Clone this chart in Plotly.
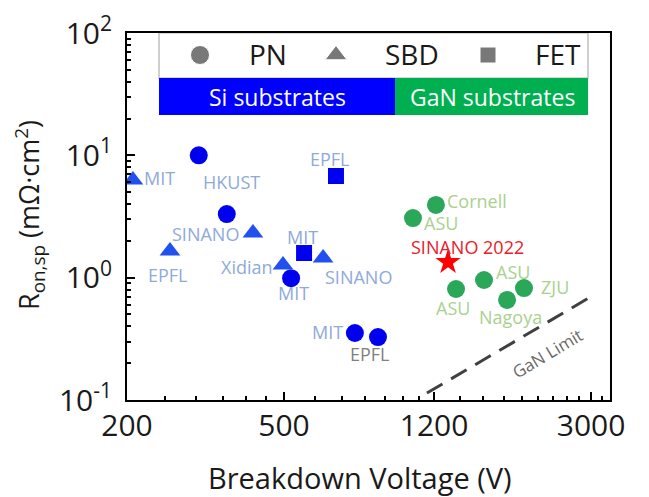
import plotly.graph_objects as go
import numpy as np

# ---------------- data ----------------
si_pn_v = [304, 358, 521, 756, 865]
si_pn_r = [10.0, 3.31, 0.99, 0.353, 0.327]
si_pn_lab = ["HKUST", "SINANO", "MIT", "MIT", "EPFL"]

si_sbd_v = [207, 257, 417, 497, 628]
si_sbd_r = [6.28, 1.65, 2.32, 1.27, 1.45]
si_sbd_lab = ["MIT", "EPFL", "", "Xidian", "SINANO"]

si_fet_v = [677, 562]
si_fet_r = [6.78, 1.59]
si_fet_lab = ["EPFL", "MIT"]

gan_pn_v = [1213, 1061, 1364, 1606, 1837, 2028]
gan_pn_r = [3.93, 3.07, 0.808, 0.957, 0.657, 0.823]
gan_pn_lab = ["Cornell", "ASU", "ASU", "ASU", "Nagoya", "ZJU"]

sinano_v = [1302]
sinano_r = [1.34]
sinano_lab = ["SINANO 2022"]

limit_v = [1151, 3046]
limit_r = [0.114, 0.721]

boundary_v = 950

x_ticks = [200, 500, 1200, 3000]
y_ticks = [0.1, 1, 10, 100]
y_ticktext = ["10<sup>-1</sup>", "10<sup>0</sup>", "10<sup>1</sup>", "10<sup>2</sup>"]

# ---------------- label offsets (px; +dy = up) ----------------
si_pn_off = [(33, -27), (-21, -20), (2, -15), (-27, 1), (-8, -17)]
si_sbd_off = [(27, 2), (-2, -24), (0, 0), (-36, -2), (35, -19)]
si_fet_off = [(-6, 17), (-2, 16)]
gan_pn_off = [(41, 4), (28, -5), (-3, -19), (29, 8), (3, -17), (31, 1)]
sinano_off = [(19, 15)]

FONT = "Open Sans"
SI_LAB = "#8EAADB"
GAN_LAB = "#A9D18E"
TXT = "#1a1a1a"

fig = go.Figure()

fig.add_trace(go.Scatter(x=si_pn_v, y=si_pn_r, mode="markers",
                         marker=dict(symbol="circle", size=18, color="#0000F0"),
                         showlegend=False))
fig.add_trace(go.Scatter(x=si_sbd_v, y=si_sbd_r, mode="markers",
                         marker=dict(symbol="triangle-up", size=18, color="#2050F0"),
                         showlegend=False))
fig.add_trace(go.Scatter(x=si_fet_v, y=si_fet_r, mode="markers",
                         marker=dict(symbol="square", size=16, color="#0000F0"),
                         showlegend=False))
fig.add_trace(go.Scatter(x=gan_pn_v, y=gan_pn_r, mode="markers",
                         marker=dict(symbol="circle", size=18, color="#2BA75A"),
                         showlegend=False))
fig.add_trace(go.Scatter(x=sinano_v, y=sinano_r, mode="markers",
                         marker=dict(symbol="star", size=19, color="#FF0000"),
                         showlegend=False))
fig.add_trace(go.Scatter(x=limit_v, y=limit_r, mode="lines",
                         line=dict(color="#404040", width=3, dash="18px,10px"),
                         showlegend=False))


def px(xp):
    return (xp - 127) / 483


def py(yp):
    return (400 - yp) / 367


# legend marker glyphs on an overlay axis pair (0..1)
fig.add_trace(go.Scatter(x=[px(200), px(336), px(488)],
                         y=[py(55)] * 3, xaxis="x2", yaxis="y2",
                         mode="markers",
                         marker=dict(symbol=["circle", "triangle-up", "square"],
                                     size=[19, 19, 16], color="#404040"),
                         showlegend=False, hoverinfo="skip"))

ann = []


def add_labels(vs, rs, labs, offs, color, size=18):
    for v, r, lab, (dx, dy) in zip(vs, rs, labs, offs):
        if not lab:
            continue
        ann.append(dict(x=np.log10(v), y=np.log10(r), xref="x", yref="y",
                        text=lab, showarrow=False, xshift=dx, yshift=dy,
                        xanchor="center", yanchor="middle",
                        font=dict(family=FONT, size=size, color=color)))


add_labels(si_pn_v[:4], si_pn_r[:4], si_pn_lab[:4], si_pn_off[:4], SI_LAB)
add_labels(si_pn_v[4:], si_pn_r[4:], si_pn_lab[4:], si_pn_off[4:], "#808080")
add_labels(si_sbd_v, si_sbd_r, si_sbd_lab, si_sbd_off, SI_LAB)
add_labels(si_fet_v, si_fet_r, si_fet_lab, si_fet_off, SI_LAB)
add_labels(gan_pn_v, gan_pn_r, gan_pn_lab, gan_pn_off, GAN_LAB)
add_labels(sinano_v, sinano_r, sinano_lab, sinano_off, "#E8202A", size=18)

# GaN limit label
ann.append(dict(x=np.log10(2320), y=np.log10(0.242), xref="x", yref="y",
                text="GaN Limit", showarrow=False, textangle=-31,
                xanchor="center", yanchor="middle",
                font=dict(family=FONT, size=17, color="#6a6a6a")))

for t, xc in [("PN", 268), ("SBD", 412), ("FET", 558)]:
    ann.append(dict(x=px(xc), y=py(54), xref="paper", yref="paper", text=t,
                    xanchor="center", yanchor="middle",
                    showarrow=False, font=dict(family=FONT, size=28, color=TXT)))
ann.append(dict(x=px(277), y=py(97), xref="paper", yref="paper", text="Si substrates",
                xanchor="center", yanchor="middle",
                showarrow=False, font=dict(family=FONT, size=23, color="white")))
ann.append(dict(x=px(492), y=py(97), xref="paper", yref="paper", text="GaN substrates",
                xanchor="center", yanchor="middle",
                showarrow=False, font=dict(family=FONT, size=23, color="white")))

# axis titles
ann.append(dict(x=px(360), y=py(477), xref="paper", yref="paper",
                text="Breakdown Voltage (V)", xanchor="center", yanchor="middle",
                showarrow=False, font=dict(family=FONT, size=29, color=TXT)))
ann.append(dict(x=px(29), y=py(215), xref="paper", yref="paper",
                text="R<sub>on,sp</sub> (mΩ·cm<sup>2</sup>)", textangle=-90,
                xanchor="center", yanchor="middle",
                showarrow=False, font=dict(family=FONT, size=27, color=TXT)))

shapes = [
    dict(type="rect", xref="paper", yref="paper", x0=px(159), x1=px(588),
         y0=py(78), y1=py(33), fillcolor="white", line=dict(color="#B0B0B0", width=1.2),
         layer="below"),
    dict(type="rect", xref="paper", yref="paper", x0=px(159), x1=px(395),
         y0=py(115), y1=py(78), fillcolor="#0000FF", line=dict(width=0), layer="below"),
    dict(type="rect", xref="paper", yref="paper", x0=px(395), x1=px(588),
         y0=py(115), y1=py(78), fillcolor="#00B050", line=dict(width=0), layer="below"),
    dict(type="line", xref="x", yref="paper", x0=np.log10(boundary_v), x1=np.log10(boundary_v),
         y0=0, y1=py(78), line=dict(color="#404040", width=1.5, dash="dot")),
]

y_minor = [m * 10.0 ** k for k in (-1, 0, 1) for m in range(2, 10)]
x_minor = [250, 300, 350, 400, 450, 600, 700, 800, 900, 1000, 1100,
           1400, 1600, 1800, 2000, 2200, 2400, 2600, 2800, 3200]

# the page body adds an 8px offset; the figure is sized so the plot frame
# lands at x 127..610, y 33..400 of the 649x497 window
fig.update_layout(
    width=641, height=489,
    margin=dict(l=119, r=39, t=25, b=97, autoexpand=False),
    paper_bgcolor="white", plot_bgcolor="white",
    font=dict(family=FONT, color=TXT),
    xaxis=dict(type="log", range=[np.log10(200), 3.525], automargin=False,
               tickmode="array", tickvals=x_ticks, ticktext=[str(t) for t in x_ticks],
               ticks="inside", ticklen=8, tickwidth=1.5, tickcolor="black",
               ticklabelstandoff=-2,
               minor=dict(ticks="inside", ticklen=4, tickwidth=1.5, tickcolor="black",
                          tickmode="array", tickvals=x_minor),
               showline=True, linecolor="black", linewidth=2, mirror=True,
               showgrid=False, zeroline=False,
               tickfont=dict(size=30, family=FONT, color=TXT)),
    yaxis=dict(type="log", range=[-1, 2], automargin=False,
               tickmode="array", tickvals=y_ticks, ticktext=y_ticktext,
               ticks="inside", ticklen=8, tickwidth=1.5, tickcolor="black",
               ticklabelstandoff=7,
               minor=dict(ticks="inside", ticklen=4, tickwidth=1.5, tickcolor="black",
                          tickmode="array", tickvals=y_minor),
               showline=True, linecolor="black", linewidth=2, mirror=True,
               showgrid=False, zeroline=False,
               tickfont=dict(size=30, family=FONT, color=TXT)),
    xaxis2=dict(overlaying="x", range=[0, 1], visible=False),
    yaxis2=dict(overlaying="y", range=[0, 1], visible=False),
    annotations=ann, shapes=shapes,
)

fig.write_html("out.html")
